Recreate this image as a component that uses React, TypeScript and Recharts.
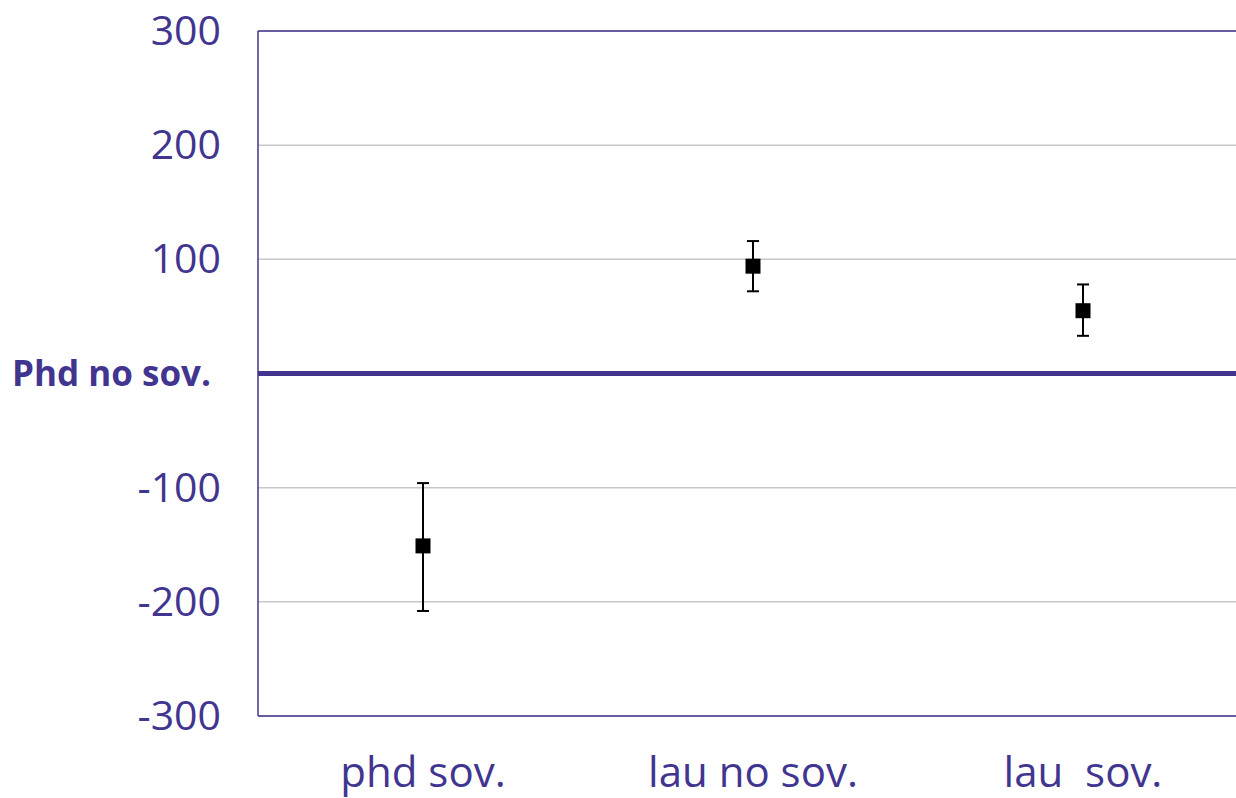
import { ComposedChart, Scatter, XAxis, YAxis, CartesianGrid, ReferenceLine, ErrorBar } from "recharts";

const categories = ["phd sov.", "lau no sov.", "lau  sov."];
const means = [-151, 94, 55];
const upper = [-96, 116, 78];
const lower = [-208, 72, 33];
const yTicks = [-300, -200, -100, 0, 100, 200, 300];
const zeroLabel = "Phd no sov.";

const purple = "#41358f";
const font = "'Open Sans', 'Noto Sans', sans-serif";

const data = categories.map((name, i) => ({
  name,
  value: means[i],
  err: [means[i] - lower[i], upper[i] - means[i]],
}));

function YTick(props: any) {
  const { x, y, payload } = props;
  if (payload.value === 0) {
    return (
      <text x={x - 39} y={y} dy={12} textAnchor="end" fill={purple} fontSize={35} fontWeight={700} fontFamily={font}>
        {zeroLabel}
      </text>
    );
  }
  return (
    <text x={x - 29} y={y} dy={14} textAnchor="end" fill={purple} fontSize={41} fontFamily={font}>
      {payload.value}
    </text>
  );
}

function XTick(props: any) {
  const { x, y, payload } = props;
  return (
    <text x={x} y={y + 63} textAnchor="middle" fill={purple} fontSize={42} fontFamily={font} style={{ whiteSpace: "pre" }}>
      {payload.value}
    </text>
  );
}

function Square(props: any) {
  const { cx, cy } = props;
  return <rect x={cx - 7.5} y={cy - 7.5} width={15} height={15} fill="#000" />;
}

export default function App() {
  return (
    <div style={{ position: "fixed", left: 0, top: 0, width: 1236, height: 798, overflow: "hidden", background: "#fff" }}>
      <ComposedChart width={1250} height={798} data={data} margin={{ top: 31, right: 2, bottom: 0, left: 0 }}>
        <CartesianGrid vertical={false} stroke="#c8c8c8" strokeWidth={1.5} />
        <XAxis dataKey="name" type="category" scale="band" height={82} axisLine={{ stroke: purple, strokeWidth: 1.5 }} tickLine={false} tick={<XTick />} interval={0} />
        <YAxis type="number" domain={[-300, 300]} ticks={yTicks} width={258} axisLine={{ stroke: purple, strokeWidth: 1.5 }} tickLine={false} tick={<YTick />} interval={0} />
        <ReferenceLine y={300} stroke={purple} strokeWidth={1.5} />
        <ReferenceLine y={0} stroke={purple} strokeWidth={5} />
        <Scatter dataKey="value" shape={<Square />} isAnimationActive={false}>
          <ErrorBar dataKey="err" direction="y" width={6} stroke="#000" strokeWidth={2} />
        </Scatter>
      </ComposedChart>
    </div>
  );
}
